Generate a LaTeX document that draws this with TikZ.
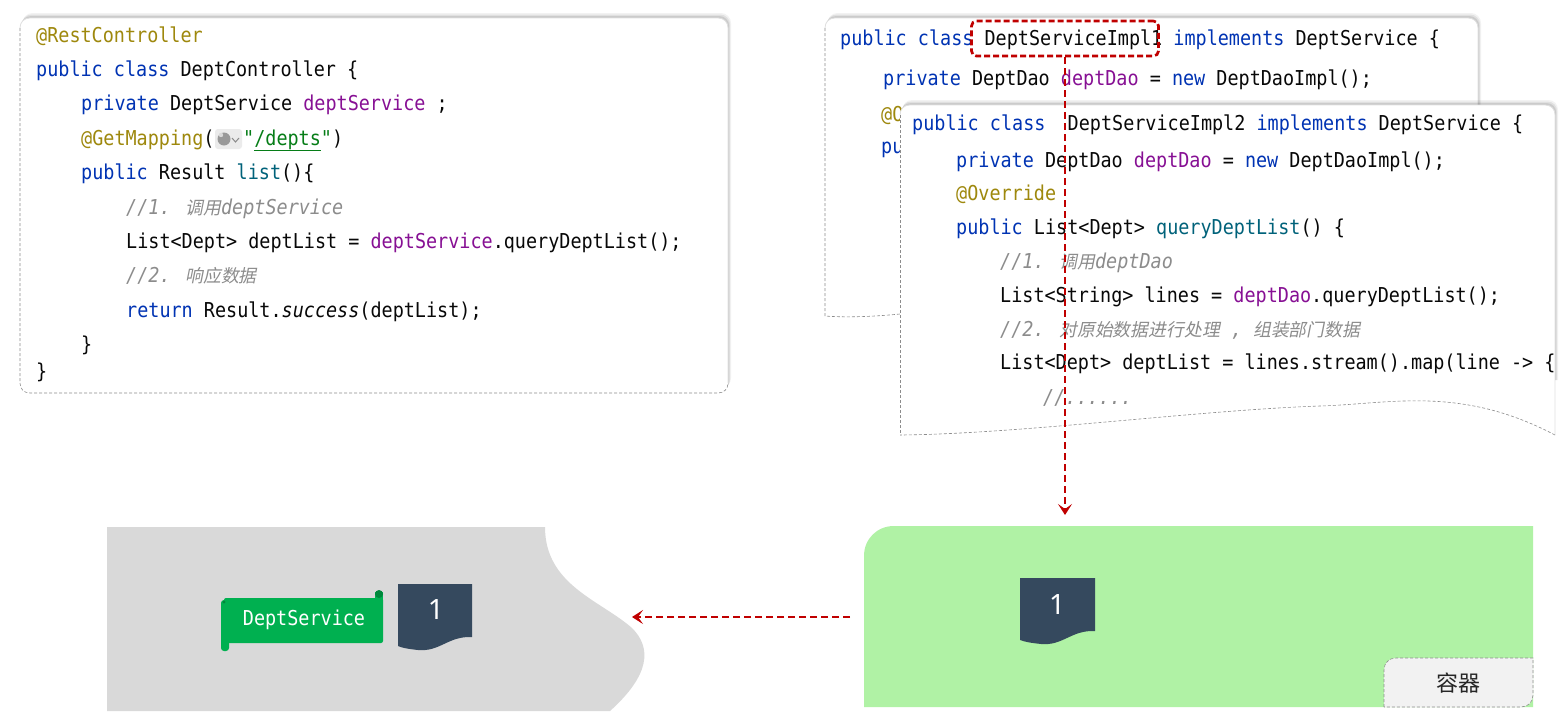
\documentclass[tikz,border=0pt]{standalone}
\usepackage{fontspec}
\usetikzlibrary{arrows.meta}
\newfontfamily\codefont{DejaVu Sans Mono}[FakeStretch=0.9]
\newfontfamily\cjkfont{Noto Sans CJK SC}
\newfontfamily\cjkit{Noto Sans CJK SC}[FakeSlant=0.2,Scale=0.87]
\newfontfamily\numfont{Noto Sans}
\definecolor{ckwc}{HTML}{0033B3}
\definecolor{cfldc}{HTML}{871094}
\definecolor{canc}{HTML}{9E880D}
\definecolor{cstrc}{HTML}{067D17}
\definecolor{cmthc}{HTML}{00627A}
\definecolor{ccmtc}{HTML}{8C8C8C}
\definecolor{ctxt}{HTML}{080808}
\definecolor{redd}{HTML}{C00000}
\definecolor{graybg}{HTML}{D9D9D9}
\definecolor{greenbg}{HTML}{B0F2A5}
\definecolor{docblue}{HTML}{35495E}
\definecolor{scrollc}{HTML}{00B050}
\definecolor{scrolld}{HTML}{00873C}
\definecolor{lblbg}{HTML}{F2F2F2}
\newcommand\ckw[1]{\textcolor{ckwc}{#1}}
\newcommand\cfld[1]{\textcolor{cfldc}{#1}}
\newcommand\cann[1]{\textcolor{canc}{#1}}
\newcommand\cmth[1]{\textcolor{cmthc}{#1}}
\newcommand\ccmt[1]{\textcolor{ccmtc}{\itshape #1}}
\newcommand\cjc[1]{{\cjkit #1}}
\tikzset{
  code/.style={anchor=base west, inner sep=0pt, text=ctxt,
    font=\codefont\fontsize{20.5}{20.5}\selectfont},
  boxborder/.style={draw=black!45, dashed, dash pattern=on 3pt off 2pt, line width=0.6pt},
  boxtop/.style={draw=black!12, line width=0.8pt},
  redarrow/.style={draw=redd, line width=2.7pt, dash pattern=on 7pt off 4pt,
    -{Stealth[length=11pt,width=14pt,inset=5pt]}},
  docshape/.style={fill=docblue},
  numtext/.style={text=white, font=\numfont\fontsize{28}{28}\selectfont, inner sep=0pt}
}
\begin{document}
\begin{tikzpicture}[x=1pt,y=-1pt]
\useasboundingbox (0,0) rectangle (1568,715);
\fill[white] (0,0) rectangle (1568,715);

% ---------- left code box ----------
\foreach \o/\a in {5/0.05,3.5/0.07,2/0.09}{
  \fill[black, opacity=\a, rounded corners=10pt] (20+\o*0.5,18-\o) rectangle (728+\o*0.6,393-\o);
}
\fill[white, rounded corners=10pt] (20,18) rectangle (728,393);
\draw[boxtop] (20,28) .. controls (20,22) and (24,18) .. (30,18) -- (718,18) .. controls (724,18) and (728,22) .. (728,28) -- (728,383);
\draw[boxborder] (20,28) -- (20,383) .. controls (20,389) and (24,393) .. (30,393) -- (718,393) .. controls (724,393) and (728,389) .. (728,383);

\node[code] (a1) at (36,42) {\cann{@RestController}};
\node[code] (a2) at (36,76) {\ckw{public class} DeptController \{};
\node[code] (a3) at (81,110) {\ckw{private} DeptService \cfld{deptService} ;};
\node[code] (a4) at (81,145) {\cann{@GetMapping}(};
\fill[black!8, rounded corners=3pt] (215,129) rectangle (242,149);
\fill[black!40] (224,139) circle (6.5);
\fill[black!15] (221,135) circle (2.2);
\draw[black!45, line width=1pt] (232,138) -- (235.5,142) -- (239,138);
\node[code] (a4b) at (243,145) {\textcolor{cstrc}{"\underline{/depts}"})};
\node[code] (a5) at (81,179) {\ckw{public} Result \cmth{list}()\{};
\node[code] (a6) at (126,214) {\ccmt{//1. \cjc{调用}deptService}};
\node[code] (a7) at (126,248) {List<Dept> deptList = \cfld{deptService}.queryDeptList();};
\node[code] (a8) at (126,282) {\ccmt{//2. \cjc{响应数据}}};
\node[code] (a9) at (126,317) {\ckw{return} Result.{\itshape success}(deptList);};
\node[code] (a10) at (81,351) {\}};
\node[code] (a11) at (36,378) {\}};

% ---------- right back code box ----------
\foreach \o/\a in {5/0.05,3.5/0.07,2/0.09}{
  \fill[black, opacity=\a, rounded corners=10pt] (825+\o*0.5,18-\o) rectangle (1478+\o*0.6,300-\o);
}
\fill[white, rounded corners=10pt] (825,18) rectangle (1478,318);
\draw[boxtop] (825,28) .. controls (825,22) and (829,18) .. (835,18) -- (1468,18) .. controls (1474,18) and (1478,22) .. (1478,28) -- (1478,110);
\draw[boxborder] (825,28) -- (825,316) .. controls (850,318) and (880,316) .. (900,314);

\node[code] (b1) at (840,45) {\ckw{public class} DeptServiceImpl1 \ckw{implements} DeptService \{};
\node[code] (b2) at (883,85) {\ckw{private} DeptDao \cfld{deptDao} = \ckw{new} DeptDaoImpl();};
\node[code] (b3) at (881,121) {\cann{@O}};
\node[code] (b4) at (881,153) {\ckw{pu}};

% ---------- right front code box ----------
\foreach \o/\a in {5/0.05,3.5/0.07,2/0.09}{
  \fill[black, opacity=\a] (900+\o*0.5,115-\o) .. controls (900+\o*0.5,109-\o) and (904+\o*0.5,105-\o) .. (910+\o*0.5,105-\o) -- (1545+\o*0.6,105-\o) .. controls (1551+\o*0.6,105-\o) and (1555+\o*0.6,109-\o) .. (1555+\o*0.6,115-\o) -- (1555+\o*0.6,380) -- (900+\o*0.5,380) -- cycle;
}
\fill[white] (900,435) -- (900,115) .. controls (900,109) and (904,105) .. (910,105) -- (1545,105) .. controls (1551,105) and (1555,109) .. (1555,115) -- (1555,435)
  .. controls (1460,385) and (1390,404) .. (1320,406) .. controls (1200,410) and (1020,434) .. (900,435) -- cycle;
\draw[boxtop] (900,115) .. controls (900,109) and (904,105) .. (910,105) -- (1545,105) .. controls (1551,105) and (1555,109) .. (1555,115) -- (1555,435);
\draw[boxborder] (900,115) -- (900,435);
\draw[boxborder] (1555,435) .. controls (1460,385) and (1390,404) .. (1320,406) .. controls (1200,410) and (1020,434) .. (900,435);

\node[code] (c1) at (912,130) {\ckw{public class}\ \ DeptServiceImpl2 \ckw{implements} DeptService \{};
\node[code] (c2) at (956,167) {\ckw{private} DeptDao \cfld{deptDao} = \ckw{new} DeptDaoImpl();};
\node[code] (c3) at (956,200) {\cann{@Override}};
\node[code] (c4) at (956,234) {\ckw{public} List<Dept> \cmth{queryDeptList}() \{};
\node[code] (c5) at (1000,268) {\ccmt{//1. \cjc{调用}deptDao}};
\node[code] (c6) at (1000,302) {List<String> lines = \cfld{deptDao}.queryDeptList();};
\node[code] (c7) at (1000,336) {\ccmt{//2. \cjc{对原始数据进行处理} , \cjc{组装部门数据}}};
\node[code] (c8) at (1000,369) {List<Dept> deptList = lines.stream().map(line -> \{};
\node[code] (c9) at (1043,404) {\ccmt{//......}};

% red dashed box around DeptServiceImpl1
\node[draw=redd, line width=2.7pt, dash pattern=on 6pt off 3pt, rounded corners=5pt,
  minimum width=187pt, minimum height=35pt, inner sep=0pt] (impl1) at (1065,38.5) {};

% ---------- bottom left grey region ----------
\fill[graybg] (107,527) -- (545,527) .. controls (545,585) and (600,600) .. (632,628)
  .. controls (652,648) and (650,675) .. (610,711) -- (107,711) -- cycle;

% green scroll
\fill[scrollc, rounded corners=2pt] (224,598) rectangle (383,643);
\fill[scrollc, rounded corners=3pt] (221,600) rectangle (229,651);
\fill[scrolld] (224,602) circle (1.6);
\fill[scrollc] (375,592) rectangle (383,600);
\fill[scrolld] (379,594) circle (4);
\node[text=white, font=\codefont\fontsize{20.5}{20.5}\selectfont, inner sep=0pt] (svc) at (304,620) {DeptService};

% document 1 (left)
\fill[docshape] (398,584) -- (472,584) -- (472,637) .. controls (448,636) and (440,652) .. (418,650) .. controls (409,649) and (402,648) .. (398,646) -- cycle;
\node[numtext] (doc1) at (436,609) {1};

% ---------- bottom right green container ----------
\fill[greenbg] (864,707) -- (864,556) .. controls (864,539) and (877,526) .. (894,526) -- (1533,526) -- (1533,707) -- cycle;
\fill[docshape] (1020,578) -- (1095,578) -- (1095,631) .. controls (1071,630) and (1063,646) .. (1041,644) .. controls (1032,643) and (1025,642) .. (1020,640) -- cycle;
\node[numtext] (doc2) at (1057,604) {1};

% container label
\fill[lblbg] (1384,707) -- (1384,670) .. controls (1384,663) and (1389,658) .. (1396,658) -- (1533,658) -- (1533,695) .. controls (1533,702) and (1528,707) .. (1521,707) -- cycle;
\draw[boxborder] (1384,707) -- (1384,670) .. controls (1384,663) and (1389,658) .. (1396,658) -- (1533,658) -- (1533,695) .. controls (1533,702) and (1528,707) .. (1521,707) -- cycle;
\node[font=\cjkfont\fontsize{22}{22}\selectfont, text=black!85, inner sep=0pt] (lbl) at (1458,683) {容器};

% ---------- arrows ----------
\coordinate (vend) at (1065,515);
\coordinate (hstart) at (850,617);
\coordinate (hend) at (632,617);
\draw[redarrow] (impl1.south) -- (vend);
\draw[redarrow] (hstart) -- (hend);
\end{tikzpicture}
\end{document}
